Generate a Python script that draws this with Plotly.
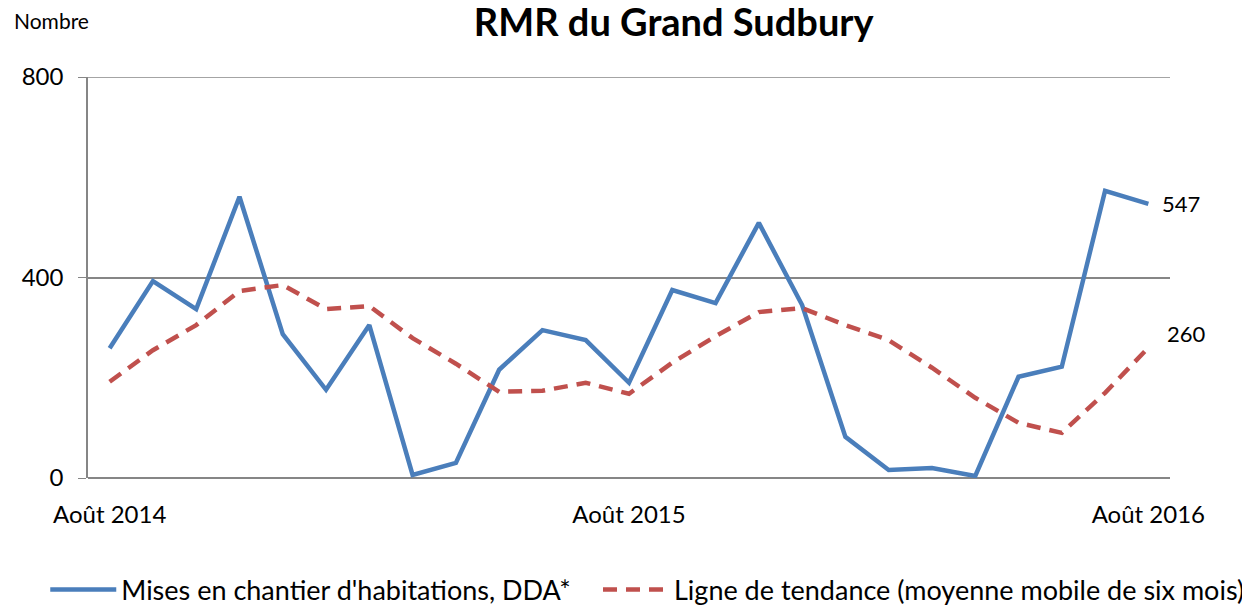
import plotly.graph_objects as go

months = ["Août 2014", "Sept 2014", "Oct 2014", "Nov 2014", "Déc 2014",
          "Janv 2015", "Févr 2015", "Mars 2015", "Avr 2015", "Mai 2015",
          "Juin 2015", "Juil 2015", "Août 2015", "Sept 2015", "Oct 2015",
          "Nov 2015", "Déc 2015", "Janv 2016", "Févr 2016", "Mars 2016",
          "Avr 2016", "Mai 2016", "Juin 2016", "Juil 2016", "Août 2016"]

mises_en_chantier = [259, 393, 337, 561, 287, 176, 305, 6, 30, 216, 295, 275, 190,
                     375, 349, 509, 345, 82, 16, 20, 4, 202, 222, 573, 547]

tendance = [192, 255, 305, 373, 385, 337, 343, 279, 228, 172, 174, 190, 168,
            230, 283, 331, 339, 305, 275, 220, 160, 110, 90, 170, 260]

tick_labels = ["Août 2014", "Août 2015", "Août 2016"]
y_ticks = [0, 400, 800]

FONT = "Lato"
GRID = "#868686"
fig = go.Figure()
fig.add_trace(go.Scatter(
    x=months, y=mises_en_chantier, mode="lines",
    name="Mises en chantier d'habitations, DDA*",
    line=dict(color="#4A7EBB", width=4.5), legend="legend"))
fig.add_trace(go.Scatter(
    x=months, y=tendance, mode="lines",
    name="Ligne de tendance (moyenne mobile de six mois)",
    line=dict(color="#C0504D", width=4.5, dash="14px,9px"), legend="legend2"))

fig.add_annotation(x=months[-1], y=mises_en_chantier[-1], text=str(mises_en_chantier[-1]),
                   showarrow=False, xanchor="left", yanchor="middle", xshift=12,
                   font=dict(size=22, color="black", family=FONT))
fig.add_annotation(x=months[-1], y=tendance[-1], text=str(tendance[-1]),
                   showarrow=False, xanchor="left", yanchor="middle", xshift=17, yshift=14,
                   font=dict(size=22, color="black", family=FONT))
fig.add_annotation(text="Nombre", xref="paper", yref="paper", x=-0.0702, y=1.14,
                   xanchor="left", yanchor="middle", showarrow=False,
                   font=dict(size=21, family=FONT))

# gridline at the top value (plotly omits gridlines on the plot edge)
fig.add_hline(y=y_ticks[-1], line=dict(color=GRID, width=1.5), layer="below")

legend_common = dict(orientation="h", xref="container", yref="container",
                     y=0.03, yanchor="middle", font=dict(size=27, family=FONT),
                     itemwidth=66, bgcolor="rgba(0,0,0,0)")

fig.update_layout(
    width=1242, height=600,
    margin=dict(l=80, r=80, t=69, b=130, autoexpand=False),
    paper_bgcolor="white", plot_bgcolor="white",
    font=dict(family=FONT, size=22, color="black"),
    title=dict(text="<b>RMR du Grand Sudbury</b>", x=0.536, xanchor="center",
               y=0.997, yanchor="top", pad=dict(t=0, b=0),
               font=dict(size=38, family=FONT)),
    showlegend=True,
    legend=dict(x=0.030, xanchor="left", **legend_common),
    legend2=dict(x=1.0, xanchor="right", **legend_common),
    xaxis=dict(type="category", tickmode="array", tickvals=tick_labels,
               ticktext=tick_labels, showgrid=False, showline=False, ticks="",
               range=[-0.5, len(months) - 0.5], tickfont=dict(size=24),
               ticklabelstandoff=20, automargin=False),
    yaxis=dict(range=[0, 800], tickvals=y_ticks, showgrid=True,
               gridcolor=GRID, gridwidth=1.5, showline=True, linecolor=GRID,
               linewidth=1.5, ticks="outside", ticklen=8, tickcolor=GRID,
               zeroline=True, zerolinecolor=GRID, zerolinewidth=1.5,
               tickfont=dict(size=24), ticklabelstandoff=10, automargin=False),
)
fig.write_html("out.html")
